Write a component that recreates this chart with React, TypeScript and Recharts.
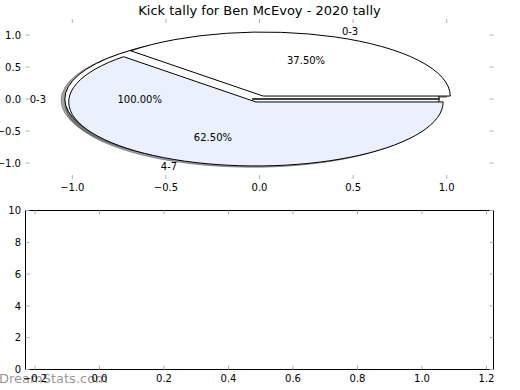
import React from 'react';
import { ScatterChart, Scatter, XAxis, YAxis, PieChart, Pie } from 'recharts';

// ---------- data ----------
const TITLE = 'Kick tally for Ben McEvoy - 2020 tally';
const WATERMARK = 'DreamStats.com';

// first pie (single wedge)
const totalLabels = ['0-3'];
const totalValues = [3];
const totalExplode = 0.04;

// second pie (two wedges)
const splitLabels = ['0-3', '4-7'];
const splitValues = [3, 5];
const splitExplode = 0.05;

const wedgeColors = ['#ffffff', '#eaf0fc'];

const pieXTicks = [-1, -0.5, 0, 0.5, 1];
const pieYTicks = [-1, -0.5, 0, 0.5, 1];
const pieXDomain = [-1.25, 1.25];
const pieYDomain = [-1.25, 1.25];

const barXTicks = [-0.2, 0, 0.2, 0.4, 0.6, 0.8, 1.0, 1.2];
const barYTicks = [0, 2, 4, 6, 8, 10];
const barXDomain = [-0.2295, 1.2217];
const barYDomain = [0, 10];

const totalData = totalLabels.map((label, i) => ({ label, value: totalValues[i] }));
const splitData = splitLabels.map((label, i) => ({ label, value: splitValues[i] }));

// ---------- layout ----------
const W = 520;
const FONT = 'DejaVu Sans';
const PLOT_LEFT = 25.5;
const PLOT_RIGHT = 493.5;
const TOP_H = 200;
const TOP_PLOT_TOP = 19;
const TOP_PLOT_BOTTOM = 179;
const BOT_TOP = 200;
const BOT_H = 190;
const BOT_PLOT_TOP = 210.5;
const BOT_PLOT_BOTTOM = 369.5;
const AX = 1; // thickness reserved by each axis box

const SX = (PLOT_RIGHT - PLOT_LEFT) / (pieXDomain[1] - pieXDomain[0]);
const SY = (TOP_PLOT_BOTTOM - TOP_PLOT_TOP) / (pieYDomain[1] - pieYDomain[0]);
const PIE_CX = PLOT_LEFT + (0 - pieXDomain[0]) * SX;
const PIE_CY = TOP_PLOT_TOP + (pieYDomain[1] - 0) * SY;

const TICK_LEN = 4;
const TICK_COLOR = '#b0b0b0';
const RAD = Math.PI / 180;

const fmt1 = (v: number) => v.toFixed(1).replace('-', '\u2212');
const fmtInt = (v: number) => String(v).replace('-', '\u2212');

function wedgePath(cx: number, cy: number, rx: number, ry: number, a0: number, a1: number) {
  const pt = (a: number) =>
    `${(cx + rx * Math.cos(a * RAD)).toFixed(2)},${(cy - ry * Math.sin(a * RAD)).toFixed(2)}`;
  const span = a1 - a0;
  if (Math.abs(span) >= 359.99) {
    return `M${cx},${cy} L${pt(a0)} A${rx},${ry} 0 1 0 ${pt(a0 + 180)} A${rx},${ry} 0 1 0 ${pt(a0 + 360)} Z`;
  }
  const large = Math.abs(span) > 180 ? 1 : 0;
  const sweep = span > 0 ? 0 : 1;
  return `M${cx},${cy} L${pt(a0)} A${rx},${ry} 0 ${large} ${sweep} ${pt(a1)} Z`;
}

function shade(hex: string) {
  const n = parseInt(hex.slice(1), 16);
  const r = Math.round(((n >> 16) & 255) * 0.3);
  const g = Math.round(((n >> 8) & 255) * 0.3);
  const b = Math.round((n & 255) * 0.3);
  return `rgb(${r},${g},${b})`;
}

function makePieLayer(mode: 'shadow' | 'wedge' | 'text', explode: number) {
  return (p: any) => {
    const { cx, cy, outerRadius, startAngle, endAngle, percent, index } = p;
    const payload = p.payload ?? p;
    const rx = outerRadius;
    const ry = outerRadius * (SY / SX);
    const mid = ((startAngle + endAngle) / 2) * RAD;
    const mx = Math.cos(mid);
    const my = Math.sin(mid);
    const ox = cx + explode * mx * rx;
    const oy = cy - explode * my * ry;
    const color = wedgeColors[index % wedgeColors.length];
    if (mode === 'shadow') {
      const sc = shade(color);
      return (
        <path
          d={wedgePath(ox - 0.02 * rx, oy + 0.02 * ry, rx, ry, startAngle, endAngle)}
          fill={sc}
          fillOpacity={0.5}
          stroke={sc}
          strokeOpacity={0.5}
          strokeWidth={1}
        />
      );
    }
    if (mode === 'wedge') {
      return (
        <path
          d={wedgePath(ox, oy, rx, ry, startAngle, endAngle)}
          fill={color}
          stroke="#000"
          strokeWidth={1}
          strokeLinejoin="round"
        />
      );
    }
    const lxData = explode * mx + 1.1 * mx;
    const lyData = explode * my + 1.1 * my;
    const pxData = explode * mx + 0.6 * mx;
    const pyData = explode * my + 0.6 * my;
    return (
      <g>
        <text
          x={cx + lxData * rx}
          y={cy - lyData * ry}
          textAnchor={lxData > 0 ? 'start' : 'end'}
          dominantBaseline="central"
          fontSize={10}
          fontFamily={FONT}
          fill="#000"
          stroke="none"
        >
          {payload.label}
        </text>
        <text
          x={cx + pxData * rx}
          y={cy - pyData * ry}
          textAnchor="middle"
          dominantBaseline="central"
          fontSize={10}
          fontFamily={FONT}
          fill="#000"
          stroke="none"
        >
          {(percent * 100).toFixed(2) + '%'}
        </text>
      </g>
    );
  };
}

function makeXTick(side: 'top' | 'bottom', fmt: ((v: number) => string) | null, labelDy: number) {
  return (props: any) => {
    const { x, y, payload } = props;
    const dir = side === 'bottom' ? -1 : 1;
    return (
      <g>
        <line x1={x} x2={x} y1={y} y2={y + dir * TICK_LEN} stroke={TICK_COLOR} strokeWidth={1} />
        {fmt && (
          <text x={x} y={y + labelDy} textAnchor="middle" fontSize={10} fontFamily={FONT} fill="#000" stroke="none">
            {fmt(payload.value)}
          </text>
        )}
      </g>
    );
  };
}

function makeYTick(side: 'left' | 'right', fmt: ((v: number) => string) | null) {
  return (props: any) => {
    const { x, y, payload } = props;
    const dir = side === 'left' ? 1 : -1;
    return (
      <g>
        <line x1={x} x2={x + dir * TICK_LEN} y1={y} y2={y} stroke={TICK_COLOR} strokeWidth={1} />
        {fmt && (
          <text x={x - 4.5} y={y} dy="0.36em" textAnchor="end" fontSize={10} fontFamily={FONT} fill="#000" stroke="none">
            {fmt(payload.value)}
          </text>
        )}
      </g>
    );
  };
}

const emptyPoints: { x: number; y: number }[] = [];

function Axes(props: {
  width: number;
  height: number;
  plotTop: number;
  plotBottom: number;
  xDomain: number[];
  yDomain: number[];
  xTicks: number[];
  yTicks: number[];
  xFmt: (v: number) => string;
  yFmt: (v: number) => string;
  xLabelDy: number;
  frame: boolean;
}) {
  const { width, height, plotTop, plotBottom, xDomain, yDomain, xTicks, yTicks, xFmt, yFmt, xLabelDy, frame } = props;
  const axisLine = frame ? { stroke: '#000', strokeWidth: 1 } : false;
  return (
    <ScatterChart
      width={width}
      height={height}
      margin={{
        top: plotTop - AX,
        bottom: height - plotBottom - AX,
        left: PLOT_LEFT - AX,
        right: width - PLOT_RIGHT - AX,
      }}
    >
      <XAxis xAxisId="b" type="number" dataKey="x" orientation="bottom" domain={xDomain} ticks={xTicks}
        allowDataOverflow height={AX} tickSize={0} tickMargin={0} axisLine={axisLine} tickLine={false}
        interval={0} tick={makeXTick('bottom', xFmt, xLabelDy)} />
      <XAxis xAxisId="t" type="number" dataKey="x" orientation="top" domain={xDomain} ticks={xTicks}
        allowDataOverflow height={AX} tickSize={0} tickMargin={0} axisLine={axisLine} tickLine={false}
        interval={0} tick={makeXTick('top', null, 0)} />
      <YAxis yAxisId="l" type="number" dataKey="y" orientation="left" domain={yDomain} ticks={yTicks}
        allowDataOverflow width={AX} tickSize={0} tickMargin={0} axisLine={axisLine} tickLine={false}
        interval={0} tick={makeYTick('left', yFmt)} />
      <YAxis yAxisId="r" type="number" dataKey="y" orientation="right" domain={yDomain} ticks={yTicks}
        allowDataOverflow width={AX} tickSize={0} tickMargin={0} axisLine={axisLine} tickLine={false}
        interval={0} tick={makeYTick('right', null)} />
      <Scatter xAxisId="b" yAxisId="l" data={emptyPoints} isAnimationActive={false} />
      <Scatter xAxisId="t" yAxisId="r" data={emptyPoints} isAnimationActive={false} />
    </ScatterChart>
  );
}

export default function App() {
  const pieCommon = {
    cx: PIE_CX,
    cy: PIE_CY,
    outerRadius: SX,
    innerRadius: 0,
    startAngle: 0,
    endAngle: 360,
    dataKey: 'value',
    nameKey: 'label',
    fill: 'none',
    stroke: 'none',
    labelLine: false,
    isAnimationActive: false,
  } as const;

  return (
    <div
      style={{
        position: 'absolute',
        left: 0,
        top: 0,
        width: W,
        height: 390,
        background: '#fff',
        overflow: 'hidden',
      }}
    >
      {/* top axes (pie) */}
      <div style={{ position: 'absolute', left: 0, top: 0 }}>
        <Axes
          width={W}
          height={TOP_H}
          plotTop={TOP_PLOT_TOP}
          plotBottom={TOP_PLOT_BOTTOM}
          xDomain={pieXDomain}
          yDomain={pieYDomain}
          xTicks={pieXTicks}
          yTicks={pieYTicks}
          xFmt={fmt1}
          yFmt={fmt1}
          xLabelDy={11.5}
          frame={false}
        />
      </div>

      <div style={{ position: 'absolute', left: 0, top: 0 }}>
        <PieChart width={W} height={TOP_H} margin={{ top: 0, right: 0, bottom: 0, left: 0 }}>
          <Pie {...pieCommon} data={totalData} label={makePieLayer('shadow', totalExplode)} />
          <Pie {...pieCommon} data={splitData} label={makePieLayer('shadow', splitExplode)} />
          <Pie {...pieCommon} data={totalData} label={makePieLayer('wedge', totalExplode)} />
          <Pie {...pieCommon} data={splitData} label={makePieLayer('wedge', splitExplode)} />
          <Pie {...pieCommon} data={totalData} label={makePieLayer('text', totalExplode)} />
          <Pie {...pieCommon} data={splitData} label={makePieLayer('text', splitExplode)} />
        </PieChart>
      </div>

      {/* bottom axes (empty) */}
      <div style={{ position: 'absolute', left: 0, top: BOT_TOP }}>
        <Axes
          width={W}
          height={BOT_H}
          plotTop={BOT_PLOT_TOP - BOT_TOP}
          plotBottom={BOT_PLOT_BOTTOM - BOT_TOP}
          xDomain={barXDomain}
          yDomain={barYDomain}
          xTicks={barXTicks}
          yTicks={barYTicks}
          xFmt={fmt1}
          yFmt={fmtInt}
          xLabelDy={12.5}
          frame={true}
        />
      </div>

      {/* title and watermark */}
      <svg
        width={W}
        height={390}
        style={{ position: 'absolute', left: 0, top: 0, pointerEvents: 'none' }}
      >
        <text x={(PLOT_LEFT + PLOT_RIGHT) / 2} y={14.5} textAnchor="middle" fontSize={13} fontFamily={FONT} fill="#000">
          {TITLE}
        </text>
        <text x={-1} y={383} fontSize={13} fontFamily={FONT} fill="#000" fillOpacity={0.45}>
          {WATERMARK}
        </text>
      </svg>
    </div>
  );
}
